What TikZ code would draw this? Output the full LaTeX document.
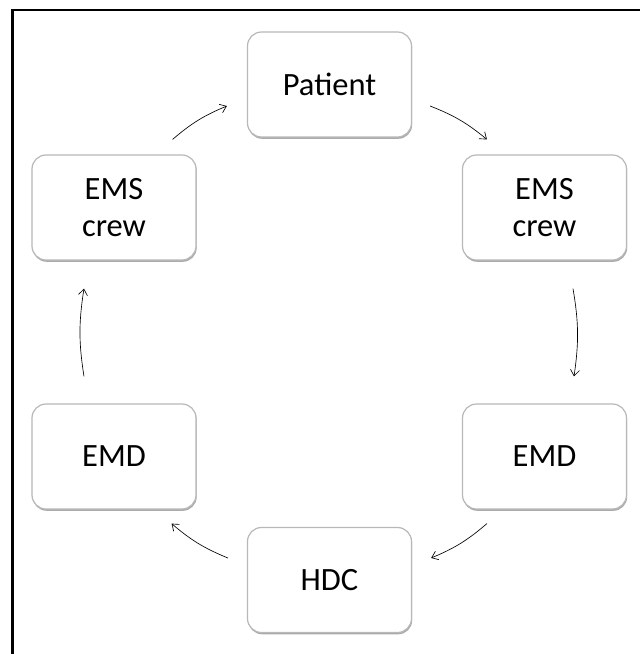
\documentclass[tikz,border=0pt]{standalone}
\usepackage{fontspec}
\setmainfont{Carlito}
\usetikzlibrary{shadows,calc,arrows.meta}
\begin{document}
\begin{tikzpicture}[x=1pt,y=-1pt,
  box/.style={draw=black!28, line width=1.2pt, fill=white, rounded corners=14pt,
    minimum width=164pt, minimum height=105pt, align=center,
    font=\fontsize{32.5}{37}\selectfont, inner sep=0pt,
    drop shadow={shadow xshift=0.7pt, shadow yshift=-1.8pt, fill=black!55, opacity=0.6}},
  arr/.style={-{Straight Barb[length=6pt,width=9pt]}, line width=0.65pt, bend left=9}]
\useasboundingbox (0,0) rectangle (640,654);
\fill[white] (0,0) rectangle (640,654);
\draw[line width=2.2pt] (12.5,10) rectangle (700,720);
\node[box] (pat) at (329.5,84.5) {Patient};
\node[box] (emsr) at (544.5,207.5) {EMS\\crew};
\node[box] (emdr) at (544.5,456.5) {EMD};
\node[box] (hdc) at (329.5,580) {HDC};
\node[box] (emdl) at (114,456.5) {EMD};
\node[box] (emsl) at (114,207.5) {EMS\\crew};
\draw[arr] ($(pat.east)+(18,21.5)$) to ($(emsr.north west)+(25,-15)$);
\draw[arr] ($(emsr.south)+(28.5,28)$) to ($(emdr.north)+(29.5,-27)$);
\draw[arr] ($(emdr.south west)+(25,14)$) to ($(hdc.east)+(19,-22)$);
\draw[arr] ($(hdc.west)+(-19,-22)$) to ($(emdl.south east)+(-25,14)$);
\draw[arr] ($(emdl.north)+(-30,-27)$) to ($(emsl.south)+(-30,28)$);
\draw[arr] ($(emsl.north east)+(-24,-15)$) to ($(pat.west)+(-20,21.5)$);
\end{tikzpicture}
\end{document}
